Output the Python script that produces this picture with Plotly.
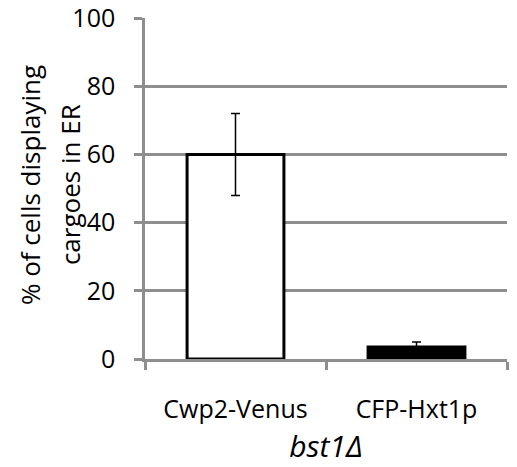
import plotly.graph_objects as go

categories = ["Cwp2-Venus", "CFP-Hxt1p"]
values = [60, 3.5]
errors = [12, 1.5]
bar_fill = ["white", "black"]
y_ticks = [0, 20, 40, 60, 80, 100]
y_title_lines = ["% of cells displaying", "cargoes in ER"]
x_title = "<i>bst1Δ</i>"

GRID = "#8e8e8e"
FONT = "Open Sans"
# page body has an 8px default margin, so the figure is 8px smaller each way
W, H = 509, 459
L, R, T, B = 137, 10, 10, 108

fig = go.Figure()
fig.add_trace(go.Bar(
    x=categories, y=values,
    marker=dict(color=bar_fill, line=dict(color="black", width=3)),
    width=0.535,
    error_y=dict(type="data", array=errors, visible=True, color="black",
                 thickness=1.5, width=4.5),
))

fig.update_layout(
    width=W, height=H,
    margin=dict(l=L, r=R, t=T, b=B),
    paper_bgcolor="white", plot_bgcolor="white",
    showlegend=False,
    font=dict(family=FONT, size=25, color="black"),
)
fig.update_xaxes(
    range=[-0.5, 1.5], automargin=False,
    showline=True, linecolor=GRID, linewidth=2.5,
    ticks="outside", tickson="boundaries", ticklen=8, tickwidth=2.5, tickcolor=GRID,
    ticklabelstandoff=26,
    showgrid=False,
    title=dict(text=x_title, standoff=2),
)
fig.update_yaxes(
    range=[0, 100.05], tickvals=y_ticks, automargin=False,
    ticklabeloverflow="allow",
    showline=True, linecolor=GRID, linewidth=2.5,
    ticks="outside", ticklen=8, tickwidth=2.5, tickcolor=GRID,
    ticklabelstandoff=14,
    showgrid=True, gridcolor=GRID, gridwidth=2.5,
    zeroline=False,
)
for line_text, px in zip(y_title_lines, [22, 62]):
    fig.add_annotation(
        text=line_text, textangle=-90, showarrow=False,
        xref="paper", yref="paper", x=0, y=0.51,
        xanchor="center", yanchor="middle", xshift=px - L,
        font=dict(family=FONT, size=26, color="black"),
    )
fig.write_html("out.html")
